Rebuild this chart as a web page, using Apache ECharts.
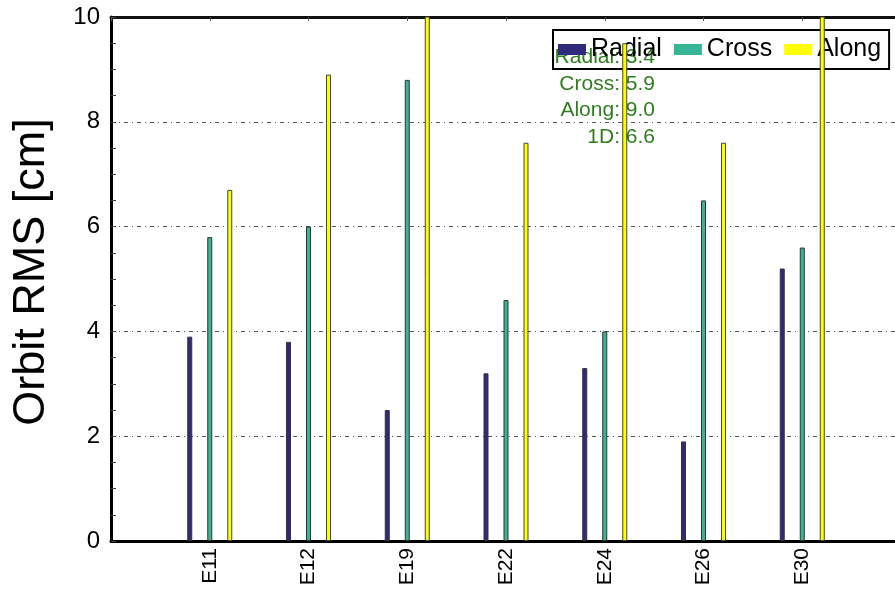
<!DOCTYPE html>
<html>
<head>
<meta charset="utf-8">
<script src="https://cdn.jsdelivr.net/npm/echarts@6/dist/echarts.min.js"></script>
<style>
  html, body { margin: 0; padding: 0; background: #fff; overflow: hidden; }
  /* the plot frame extends a few pixels past the visible right edge */
  #chart { width: 901px; height: 592px; }
</style>
</head>
<body>
<div id="chart"></div>
<script>
// Per-satellite orbit RMS (cm)
const categories = ['E11', 'E12', 'E19', 'E22', 'E24', 'E26', 'E30'];
const radial = [3.9, 3.8, 2.5, 3.2, 3.3, 1.9, 5.2];
const cross  = [5.8, 6.0, 8.8, 4.6, 4.0, 6.5, 5.6];
const along  = [6.7, 8.9, 11.6, 7.6, 9.5, 7.6, 11.1];
const yTicks = [0, 2, 4, 6, 8, 10];

// Summary lines shown inside the plot
const summaryLines = ['Radial: 3.4', 'Cross: 5.9', 'Along: 9.0', '1D: 6.6'];

const FONT = '"Liberation Sans", Arial, sans-serif';

// Empty slots at both ends keep half a band of space around the bars
const axisCats = [''].concat(categories, ['']);
const pad = arr => [null].concat(arr, [null]);

const chart = echarts.init(document.getElementById('chart'));

const barBase = {
  type: 'bar',
  barWidth: 5,
  barGap: '300%',
  z: 3,
  clip: true,
  emphasis: { disabled: true }
};

chart.setOption({
  animation: false,
  textStyle: { fontFamily: FONT },
  grid: { left: 111, top: 17, bottom: 51, right: 0, containLabel: false },
  legend: {
    z: 1,
    left: 553,
    top: 30,
    padding: [7, 8, 7, 5],
    itemGap: 12,
    itemWidth: 28,
    itemHeight: 11,
    borderColor: '#000',
    borderWidth: 2,
    backgroundColor: 'transparent',
    icon: 'rect',
    itemStyle: { borderWidth: 0 },
    textStyle: { fontSize: 25, color: '#000', fontFamily: FONT },
    data: ['Radial', 'Cross', 'Along']
  },
  xAxis: [
    {
      type: 'category',
      data: axisCats,
      boundaryGap: false,
      position: 'bottom',
      axisLine: { lineStyle: { color: '#000', width: 3 } },
      axisTick: { show: false },
      axisLabel: {
        rotate: 90,
        fontSize: 21,
        color: '#000',
        margin: 7,
        interval: 0,
        fontFamily: FONT
      },
      splitLine: { show: false }
    },
    {
      type: 'category',
      data: axisCats,
      boundaryGap: false,
      position: 'top',
      axisLine: { lineStyle: { color: '#111', width: 3 } },
      axisTick: { show: true, inside: true, length: 4, interval: 0, lineStyle: { color: '#555' } },
      axisLabel: { show: false },
      splitLine: { show: false }
    }
  ],
  yAxis: {
    type: 'value',
    min: yTicks[0],
    max: yTicks[yTicks.length - 1],
    interval: 2,
    name: 'Orbit RMS [cm]',
    nameLocation: 'middle',
    nameGap: 57,
    nameTextStyle: { fontSize: 45, color: '#000', fontFamily: FONT, padding: [0, 0, 0, 14] },
    axisLine: { show: true, lineStyle: { color: '#000', width: 3 } },
    axisTick: { show: true, inside: true, length: 5, lineStyle: { color: '#444' } },
    minorTick: { show: true, splitNumber: 4, length: 5, lineStyle: { color: '#444' } },
    axisLabel: { fontSize: 24, color: '#000', margin: 11, fontFamily: FONT },
    splitLine: {
      show: true,
      lineStyle: { color: '#555', width: 1, type: [4, 4, 1, 4] }
    }
  },
  graphic: summaryLines.map((t, i) => ({
    type: 'text',
    z: 1,
    right: 901 - 655,
    top: 47 + i * 26.5,
    style: {
      text: t,
      fill: '#2f7d1f',
      font: '21px ' + FONT,
      textAlign: 'right'
    }
  })),
  series: [
    Object.assign({}, barBase, {
      name: 'Radial',
      data: pad(radial),
      itemStyle: { color: '#2f2a7c', borderColor: '#333', borderWidth: 1 }
    }),
    Object.assign({}, barBase, {
      name: 'Cross',
      data: pad(cross),
      itemStyle: { color: '#38b497', borderColor: '#333', borderWidth: 1 }
    }),
    Object.assign({}, barBase, {
      name: 'Along',
      data: pad(along),
      itemStyle: { color: '#ffff00', borderColor: '#444', borderWidth: 1 }
    })
  ]
});
</script>
</body>
</html>
